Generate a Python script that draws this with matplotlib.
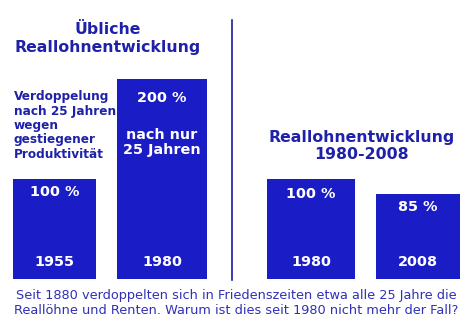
import matplotlib.pyplot as plt

# left panel: usual real wage development
left_years = ["1955", "1980"]
left_values = [100, 200]
# right panel: real wage development 1980-2008
right_years = ["1980", "2008"]
right_values = [100, 85]

bar_color = "#1a1cc6"
text_color = "#1f22a8"

fig = plt.figure(figsize=(4.72, 3.33), dpi=100)
ax = fig.add_axes([0, 0, 1, 1])
# 1 unit = 1 pixel, baseline of the bars at y=0
ax.set_xlim(0, 472)
ax.set_ylim(-54, 279)
ax.axis("off")

left_x = [54.5, 162]
left_w = [83, 90]
right_x = [311, 418]
right_w = [88, 84]

ax.bar(left_x, left_values, width=left_w, color=bar_color)
ax.bar(right_x, right_values, width=right_w, color=bar_color)

bold = dict(fontweight="bold", ha="center", va="center")

# percent labels and year labels inside bars
offsets = [13, 19, 15, 13]
for x, v, yr, off in zip(left_x + right_x, left_values + right_values,
                         left_years + right_years, offsets):
    ax.text(x, v - off, f"{v} %", color="white", fontsize=10.4, **bold)
    ax.text(x, 17.5, yr, color="white", fontsize=10.4, **bold)

ax.text(left_x[1], 136.5, "nach nur\n25 Jahren", color="white", fontsize=10.4,
        linespacing=1.15, **bold)

# titles
ax.text(108, 240.5, "Übliche\nReallohnentwicklung", color=text_color, fontsize=11.3,
        linespacing=1.2, **bold)
ax.text(362, 133, "Reallohnentwicklung\n1980-2008", color=text_color, fontsize=11.3,
        linespacing=1.15, **bold)

ax.text(14, 153.5, "Verdoppelung\nnach 25 Jahren\nwegen\ngestiegener\nProduktivität",
        color=text_color, fontsize=8.7, fontweight="bold", ha="left", va="center",
        linespacing=1.15)

# divider
ax.plot([232, 232], [-1, 259], color="#1a1aa0", lw=1.2)

ax.text(236, -24.5,
        "Seit 1880 verdoppelten sich in Friedenszeiten etwa alle 25 Jahre die\n"
        "Reallöhne und Renten. Warum ist dies seit 1980 nicht mehr der Fall?",
        color="#3030b8", fontsize=9.3, ha="center", va="center", linespacing=1.2)

fig.savefig("out.png", dpi=100)
